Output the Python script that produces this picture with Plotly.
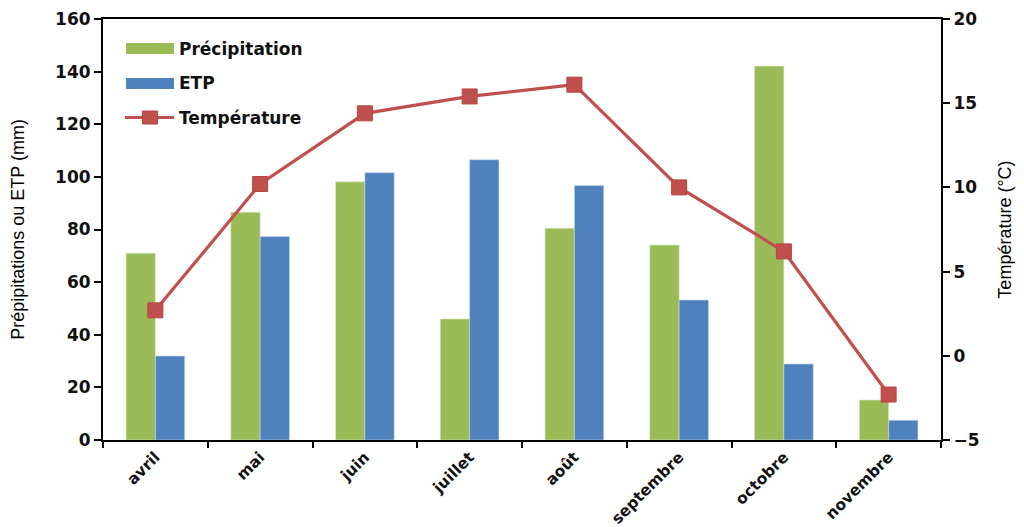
import plotly.graph_objects as go

months = ["avril", "mai", "juin", "juillet", "août", "septembre", "octobre", "novembre"]
precipitation = [71, 86.6, 98.1, 46, 80.5, 74.1, 142.1, 15.2]
etp = [31.9, 77.3, 101.6, 106.5, 96.7, 53.2, 28.9, 7.5]
temperature = [2.7, 10.2, 14.4, 15.4, 16.1, 10.0, 6.2, -2.3]

left_ticks = [0, 20, 40, 60, 80, 100, 120, 140, 160]
right_ticks = [-5, 0, 5, 10, 15, 20]

GREEN = "#9BBB59"
BLUE = "#4F81BD"
RED = "#C0504D"

W, H = 1024, 527
ML, MR, MT, MB = 103, 83, 19, 87

fig = go.Figure()
fig.add_trace(go.Bar(x=months, y=precipitation, name="Précipitation",
                     marker=dict(color=GREEN, line=dict(color="#DDE8C8", width=0.6)),
                     showlegend=False))
fig.add_trace(go.Bar(x=months, y=etp, name="ETP",
                     marker=dict(color=BLUE, line=dict(color="#C8D8EC", width=0.6)),
                     showlegend=False))
fig.add_trace(go.Scatter(x=months, y=temperature, name="Température", yaxis="y2",
                         mode="lines+markers",
                         line=dict(color=RED, width=3.2),
                         marker=dict(symbol="square", size=15, color=RED,
                                     line=dict(color="#B94441", width=1)),
                         showlegend=False))

FONT = "DejaVu Sans, Verdana, sans-serif"
tick_font = dict(family=FONT, size=17, color="#111111", weight="bold")
cat_font = dict(family=FONT, size=15.5, color="#111111", weight="bold")
title_font = dict(family="Liberation Sans Narrow, Arial Narrow, Liberation Sans, sans-serif",
                  size=18, color="#000000")

fig.update_layout(
    width=W, height=H,
    margin=dict(l=ML, r=MR, t=MT, b=MB, pad=0),
    paper_bgcolor="white", plot_bgcolor="white",
    barmode="group", bargap=0.44, bargroupgap=0,
    xaxis=dict(showline=True, linecolor="black", linewidth=2, mirror=True,
               ticks="outside", ticklen=6, tickwidth=2, tickcolor="black",
               tickson="boundaries", tickangle=-45, automargin=False,
               tickfont=cat_font,
               showgrid=False, zeroline=False),
    yaxis=dict(range=[0, 160], tickvals=left_ticks, automargin=False,
               showline=True, linecolor="black", linewidth=2,
               ticks="outside", ticklen=7, tickwidth=1.5, tickcolor="black",
               tickfont=tick_font,
               showgrid=False, zeroline=False,
               title=dict(text="Prépipitations ou ETP (mm)", font=title_font, standoff=26)),
    yaxis2=dict(range=[-5, 20], tickvals=right_ticks, overlaying="y", side="right",
                automargin=False,
                showline=True, linecolor="black", linewidth=2,
                ticks="outside", ticklen=7, tickwidth=1.5, tickcolor="black",
                tickfont=tick_font,
                showgrid=False, zeroline=False,
                title=dict(text="Température (°C)", font=title_font, standoff=20)),
)

# Manual legend (pixel positions converted to paper coordinates)
pw = W - ML - MR
ph = H - MT - MB
def px(x):
    return (x - ML) / pw
def py(y):
    return 1 - (y - MT) / ph

legend_font = dict(family=FONT, size=17, color="#111111", weight="bold")
legend_items = [("Précipitation", GREEN, 48.5), ("ETP", BLUE, 83.5)]
for label, col, yc in legend_items:
    fig.add_shape(type="rect", xref="paper", yref="paper",
                  x0=px(126), x1=px(174), y0=py(yc + 5.5), y1=py(yc - 5.5),
                  fillcolor=col, line=dict(width=0))
    fig.add_annotation(xref="paper", yref="paper", x=px(177), y=py(yc),
                       text=label, showarrow=False, xanchor="left", yanchor="middle",
                       font=legend_font)
yc = 117.5
fig.add_shape(type="line", xref="paper", yref="paper",
              x0=px(125), x1=px(174), y0=py(yc), y1=py(yc),
              line=dict(color=RED, width=3.2))
fig.add_shape(type="rect", xref="paper", yref="paper",
              x0=px(142.5), x1=px(157.5), y0=py(yc + 6.5), y1=py(yc - 6.5),
              fillcolor=RED, line=dict(color="#B94441", width=1))
fig.add_annotation(xref="paper", yref="paper", x=px(177), y=py(yc),
                   text="Température", showarrow=False, xanchor="left", yanchor="middle",
                   font=legend_font)

fig.write_html("out.html")
